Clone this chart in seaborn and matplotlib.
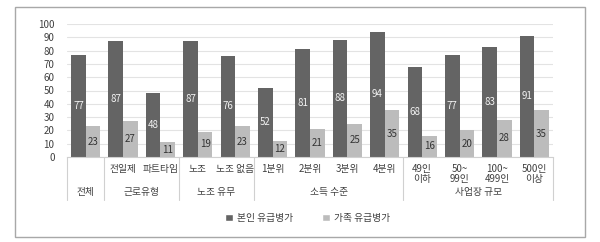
import matplotlib
matplotlib.use("Agg")
import matplotlib.pyplot as plt
import matplotlib.transforms as mtransforms
from matplotlib.patches import Rectangle, Patch
import seaborn as sns
import pandas as pd

groups = ['전체', '근로유형', '노조 유무', '소득 수준', '사업장 규모']
group_sizes = [1, 2, 2, 4, 4]
categories = ['', '전일제', '파트타임', '노조', '노조 없음', '1분위', '2분위', '3분위', '4분위',
              '49인\n이하', '50~\n99인', '100~\n499인', '500인\n이상']
series_names = ['본인 유급병가', '가족 유급병가']
self_vals = [77, 87, 48, 87, 76, 52, 81, 88, 94, 68, 77, 83, 91]
family_vals = [23, 27, 11, 19, 23, 12, 21, 25, 35, 16, 20, 28, 35]
yticks = [0, 10, 20, 30, 40, 50, 60, 70, 80, 90, 100]

sns.set_theme(style="white")
plt.rcParams['font.family'] = ['Noto Sans CJK KR', 'DejaVu Sans']

rows = []
for i in range(len(categories)):
    rows.append({'idx': i, 'series': series_names[0], 'value': self_vals[i]})
    rows.append({'idx': i, 'series': series_names[1], 'value': family_vals[i]})
df = pd.DataFrame(rows)

dark = '#646464'
light = '#bcbcbc'
txt = '#404040'

fig = plt.figure(figsize=(6.0, 2.42), dpi=100)
ax = fig.add_axes([67/600, 1-157/242, (553-67)/600, (157-24)/242])

sns.barplot(data=df, x='idx', y='value', hue='series', order=list(range(len(categories))),
            hue_order=series_names, palette=[dark, light], width=0.78,
            linewidth=0, ax=ax, legend=False)

for c, col in zip(ax.containers, ['#f2f2f2', '#333333']):
    ax.bar_label(c, labels=[str(int(v)) for v in c.datavalues], label_type='center',
                 color=col, fontsize=7)

ax.set_ylim(0, 100)
ax.set_xlim(-0.5, len(categories) - 0.5)
ax.set_yticks(yticks)
ax.set_yticklabels([str(t) for t in yticks], fontsize=7, color=txt)
ax.tick_params(axis='y', length=0, pad=9)
ax.set_xticks([])
ax.set_xlabel('')
ax.set_ylabel('')
ax.grid(axis='y', color='#e3e3e3', linewidth=0.8)
ax.set_axisbelow(True)
for s in ['left', 'right', 'top']:
    ax.spines[s].set_visible(False)
ax.spines['bottom'].set_color('#d0d0d0')
ax.spines['bottom'].set_linewidth(0.8)

trans = mtransforms.blended_transform_factory(ax.transData, ax.transAxes)
for i, lab in enumerate(categories):
    if lab:
        ax.text(i, -0.05, lab, transform=trans, ha='center', va='top', fontsize=7,
                color=txt, linespacing=1.1)

start = 0
bounds = [-0.5]
for g, n in zip(groups, group_sizes):
    center = start + (n - 1) / 2
    ax.text(center, -0.265, g, transform=trans, ha='center', va='center', fontsize=7, color=txt)
    start += n
    bounds.append(start - 0.5)
for b in bounds:
    ax.plot([b, b], [0, -0.325], transform=trans, color='#d0d0d0', linewidth=0.8, clip_on=False)

handles = [Patch(facecolor=dark, label=series_names[0]), Patch(facecolor=light, label=series_names[1])]
fig.legend(handles=handles, loc='center', bbox_to_anchor=(0.513, 1-218/242), ncol=2, frameon=False,
           fontsize=7, handlelength=0.8, handleheight=0.8, handletextpad=0.4, columnspacing=3.0,
           labelcolor=txt)

fig.patches.append(Rectangle((15/600, 1-237/242), 570/600, 230/242, transform=fig.transFigure,
                             fill=False, edgecolor='#a8a8a8', linewidth=1.0))

fig.savefig('out.png', dpi=100)
